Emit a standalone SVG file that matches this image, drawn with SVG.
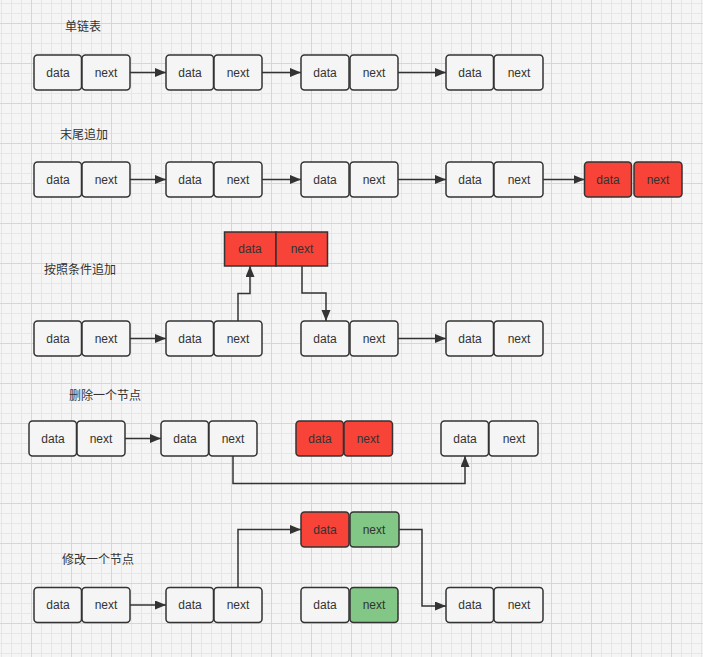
<svg xmlns="http://www.w3.org/2000/svg" width="703" height="657" viewBox="0 0 703 657">
<defs>
<pattern id="grid" patternUnits="userSpaceOnUse" x="1" y="3" width="40" height="40">
<path d="M0.5 0V40M10.5 0V40M20.5 0V40M0 0.5H40M0 10.5H40M0 30.5H40" stroke="#e6e6e6" stroke-width="1" fill="none"/>
<path d="M30.5 0V40M0 20.5H40" stroke="#d6d6d6" stroke-width="1" fill="none"/>
</pattern>
<marker id="arr" markerUnits="userSpaceOnUse" markerWidth="12" markerHeight="10" refX="11" refY="4.5" orient="auto">
<path d="M0,0 L11,4.5 L0,9 Z" fill="#333333"/>
</marker>
</defs>
<style>
.c{fill:#f5f5f5;stroke:#333333;stroke-width:1.5}
.r{fill:#f74338;stroke:#333333;stroke-width:1.5}
.g{fill:#82c785;stroke:#333333;stroke-width:1.5}
.t{font-family:"Liberation Sans","Noto Sans",sans-serif;font-size:12px;fill:#333333;text-anchor:middle;dominant-baseline:central}
.lb{font-family:"Noto Sans CJK SC","Noto Sans",sans-serif;font-size:12px;fill:#333333;dominant-baseline:central}
.e{fill:none;stroke:#333333;stroke-width:1.5;marker-end:url(#arr)}
</style>
<rect width="703" height="657" fill="#f5f5f5"/>
<rect width="703" height="657" fill="url(#grid)"/>

<g id="labels">
<text class="lb" x="65" y="25">单链表</text>
<text class="lb" x="60" y="133">末尾追加</text>
<text class="lb" x="44" y="268">按照条件追加</text>
<text class="lb" x="69" y="394">删除一个节点</text>
<text class="lb" x="62" y="558">修改一个节点</text>
</g>

<!-- Row 1 -->
<g id="r1n1"><rect class="c" x="34" y="55" width="47.5" height="35" rx="3.5"/><rect class="c" x="82" y="55" width="48" height="35" rx="3.5"/><text class="t" x="58" y="72.5">data</text><text class="t" x="106" y="72.5">next</text></g>
<g id="r1n2"><rect class="c" x="166" y="55" width="47.5" height="35" rx="3.5"/><rect class="c" x="214" y="55" width="48" height="35" rx="3.5"/><text class="t" x="190" y="72.5">data</text><text class="t" x="238" y="72.5">next</text></g>
<g id="r1n3"><rect class="c" x="301" y="55" width="48" height="35" rx="3.5"/><rect class="c" x="350" y="55" width="48" height="35" rx="3.5"/><text class="t" x="325" y="72.5">data</text><text class="t" x="374" y="72.5">next</text></g>
<g id="r1n4"><rect class="c" x="446" y="55" width="47.5" height="35" rx="3.5"/><rect class="c" x="494" y="55" width="49" height="35" rx="3.5"/><text class="t" x="470" y="72.5">data</text><text class="t" x="519" y="72.5">next</text></g>

<!-- Row 2 -->
<g id="r2n1"><rect class="c" x="34" y="162" width="47.5" height="35" rx="3.5"/><rect class="c" x="82" y="162" width="48" height="35" rx="3.5"/><text class="t" x="58" y="179.5">data</text><text class="t" x="106" y="179.5">next</text></g>
<g id="r2n2"><rect class="c" x="166" y="162" width="47.5" height="35" rx="3.5"/><rect class="c" x="214" y="162" width="48" height="35" rx="3.5"/><text class="t" x="190" y="179.5">data</text><text class="t" x="238" y="179.5">next</text></g>
<g id="r2n3"><rect class="c" x="301" y="162" width="48" height="35" rx="3.5"/><rect class="c" x="350" y="162" width="48" height="35" rx="3.5"/><text class="t" x="325" y="179.5">data</text><text class="t" x="374" y="179.5">next</text></g>
<g id="r2n4"><rect class="c" x="446" y="162" width="47.5" height="35" rx="3.5"/><rect class="c" x="494" y="162" width="49" height="35" rx="3.5"/><text class="t" x="470" y="179.5">data</text><text class="t" x="519" y="179.5">next</text></g>
<g id="r2n5"><rect class="r" x="584.5" y="162" width="47" height="35" rx="3.5"/><rect class="r" x="634" y="162" width="48" height="35" rx="3.5"/><text class="t" x="608" y="179.5">data</text><text class="t" x="658" y="179.5">next</text></g>

<!-- Row 3 -->
<g id="r3new"><rect class="r" x="224.5" y="232" width="51.5" height="34"/><rect class="r" x="276" y="232" width="51.5" height="34"/><text class="t" x="250" y="249">data</text><text class="t" x="302" y="249">next</text></g>
<g id="r3n1"><rect class="c" x="34" y="321" width="47.5" height="35" rx="3.5"/><rect class="c" x="82" y="321" width="48" height="35" rx="3.5"/><text class="t" x="58" y="338.5">data</text><text class="t" x="106" y="338.5">next</text></g>
<g id="r3n2"><rect class="c" x="166" y="321" width="47.5" height="35" rx="3.5"/><rect class="c" x="214" y="321" width="48" height="35" rx="3.5"/><text class="t" x="190" y="338.5">data</text><text class="t" x="238" y="338.5">next</text></g>
<g id="r3n3"><rect class="c" x="301" y="321" width="48" height="35" rx="3.5"/><rect class="c" x="350" y="321" width="48" height="35" rx="3.5"/><text class="t" x="325" y="338.5">data</text><text class="t" x="374" y="338.5">next</text></g>
<g id="r3n4"><rect class="c" x="446" y="321" width="47.5" height="35" rx="3.5"/><rect class="c" x="494" y="321" width="49" height="35" rx="3.5"/><text class="t" x="470" y="338.5">data</text><text class="t" x="519" y="338.5">next</text></g>

<!-- Row 4 -->
<g id="r4n1"><rect class="c" x="29" y="421" width="47.5" height="35" rx="3.5"/><rect class="c" x="77" y="421" width="48" height="35" rx="3.5"/><text class="t" x="53" y="438.5">data</text><text class="t" x="101" y="438.5">next</text></g>
<g id="r4n2"><rect class="c" x="161" y="421" width="47.5" height="35" rx="3.5"/><rect class="c" x="209" y="421" width="48" height="35" rx="3.5"/><text class="t" x="185" y="438.5">data</text><text class="t" x="233" y="438.5">next</text></g>
<g id="r4del"><rect class="r" x="296" y="421" width="47.5" height="35" rx="3.5"/><rect class="r" x="344" y="421" width="48.5" height="35" rx="3.5"/><text class="t" x="320" y="438.5">data</text><text class="t" x="368" y="438.5">next</text></g>
<g id="r4n4"><rect class="c" x="441" y="421" width="47.5" height="35" rx="3.5"/><rect class="c" x="489" y="421" width="49" height="35" rx="3.5"/><text class="t" x="465" y="438.5">data</text><text class="t" x="514" y="438.5">next</text></g>

<!-- Row 5 -->
<g id="r5new"><rect class="r" x="301" y="512" width="48" height="35" rx="3.5"/><rect class="g" x="350" y="512" width="49" height="35" rx="3.5"/><text class="t" x="325" y="529.5">data</text><text class="t" x="374" y="529.5">next</text></g>
<g id="r5n1"><rect class="c" x="34" y="587.5" width="47.5" height="35" rx="3.5"/><rect class="c" x="82" y="587.5" width="48" height="35" rx="3.5"/><text class="t" x="58" y="605">data</text><text class="t" x="106" y="605">next</text></g>
<g id="r5n2"><rect class="c" x="166" y="587.5" width="47.5" height="35" rx="3.5"/><rect class="c" x="214" y="587.5" width="48" height="35" rx="3.5"/><text class="t" x="190" y="605">data</text><text class="t" x="238" y="605">next</text></g>
<g id="r5old"><rect class="c" x="301" y="587.5" width="48" height="35" rx="3.5"/><rect class="g" x="350" y="587.5" width="48" height="35" rx="3.5"/><text class="t" x="325" y="605">data</text><text class="t" x="374" y="605">next</text></g>
<g id="r5n4"><rect class="c" x="446" y="587.5" width="47.5" height="35" rx="3.5"/><rect class="c" x="494" y="587.5" width="49" height="35" rx="3.5"/><text class="t" x="470" y="605">data</text><text class="t" x="519" y="605">next</text></g>

<g id="connectors">
<path class="e" d="M130 72.5H166"/>
<path class="e" d="M262 72.5H301"/>
<path class="e" d="M398 72.5H446"/>
<path class="e" d="M130 179.5H166"/>
<path class="e" d="M262 179.5H301"/>
<path class="e" d="M398 179.5H446"/>
<path class="e" d="M543 179.5H584.5"/>
<path class="e" d="M130 338.5H166"/>
<path class="e" d="M238 321V293.5H250V266"/>
<path class="e" d="M302 266V293H326V321"/>
<path class="e" d="M398 338.5H446"/>
<path class="e" d="M125 438.5H161"/>
<path class="e" d="M233 456V483.5H465V456"/>
<path class="e" d="M130 605H166"/>
<path class="e" d="M238 587.5V529.5H301"/>
<path class="e" d="M399 529.5H422V606H446"/>
</g>
</svg>
